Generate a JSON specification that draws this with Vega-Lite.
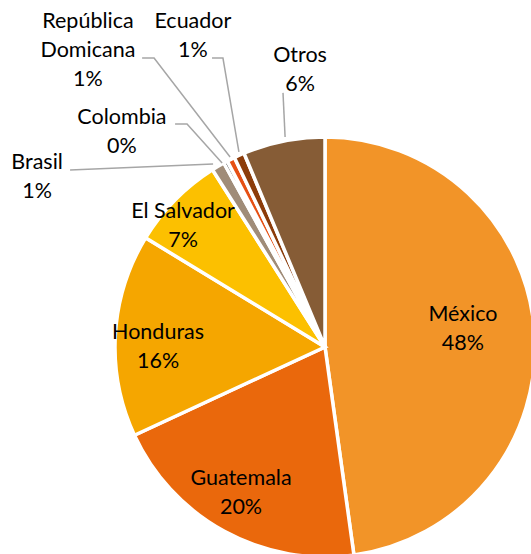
{
  "$schema": "https://vega.github.io/schema/vega-lite/v6.json",
  "autosize": {"type": "none"},
  "width": 412,
  "height": 414,
  "padding": {"left": 119, "top": 140, "right": 0, "bottom": 0},
  "background": "white",
  "config": {"view": {"stroke": null}},
  "datasets": {
    "slices": [
      {"pais": "México", "valor": 47.8, "orden": 1},
      {"pais": "Guatemala", "valor": 20.3, "orden": 2},
      {"pais": "Honduras", "valor": 15.6, "orden": 3},
      {"pais": "El Salvador", "valor": 7.3, "orden": 4},
      {"pais": "Brasil", "valor": 1.0, "orden": 5},
      {"pais": "Colombia", "valor": 0.3, "orden": 6},
      {"pais": "República Domicana", "valor": 0.6, "orden": 7},
      {"pais": "Ecuador", "valor": 0.8, "orden": 8},
      {"pais": "Otros", "valor": 6.3, "orden": 9}
    ],
    "labels": [
      {"texto": "México\n48%", "ux": 0.657, "uy": 0.152},
      {"texto": "Guatemala\n20%", "ux": -0.4, "uy": -0.629},
      {"texto": "Honduras\n16%", "ux": -0.795, "uy": 0.067},
      {"texto": "El Salvador\n7%", "ux": -0.676, "uy": 0.643},
      {"texto": "Brasil\n1%", "ux": -1.371, "uy": 0.876},
      {"texto": "Colombia\n0%", "ux": -0.967, "uy": 1.09},
      {"texto": "República\nDomicana\n1%", "ux": -1.129, "uy": 1.548},
      {"texto": "Ecuador\n1%", "ux": -0.629, "uy": 1.548},
      {"texto": "Otros\n6%", "ux": -0.119, "uy": 1.386}
    ],
    "leaders": [
      {"g": "RD", "s": 1, "ux": -0.871, "uy": 1.376},
      {"g": "RD", "s": 2, "ux": -0.814, "uy": 1.376},
      {"g": "RD", "s": 3, "ux": -0.452, "uy": 0.905},
      {"g": "EC", "s": 1, "ux": -0.538, "uy": 1.376},
      {"g": "EC", "s": 2, "ux": -0.486, "uy": 1.376},
      {"g": "EC", "s": 3, "ux": -0.41, "uy": 0.929},
      {"g": "OT", "s": 1, "ux": -0.2, "uy": 1.21},
      {"g": "OT", "s": 2, "ux": -0.19, "uy": 1.0},
      {"g": "CO", "s": 1, "ux": -0.714, "uy": 1.062},
      {"g": "CO", "s": 2, "ux": -0.657, "uy": 1.062},
      {"g": "CO", "s": 3, "ux": -0.49, "uy": 0.876},
      {"g": "BR", "s": 1, "ux": -1.214, "uy": 0.843},
      {"g": "BR", "s": 2, "ux": -0.533, "uy": 0.871}
    ]
  },
  "layer": [
    {
      "data": {"name": "slices"},
      "mark": {"type": "arc", "outerRadius": 210, "stroke": "white", "strokeWidth": 3.5},
      "encoding": {
        "theta": {"field": "valor", "type": "quantitative", "stack": true},
        "order": {"field": "orden", "type": "quantitative"},
        "color": {
          "field": "pais", "type": "nominal", "legend": null,
          "scale": {
            "domain": ["México", "Guatemala", "Honduras", "El Salvador", "Brasil", "Colombia", "República Domicana", "Ecuador", "Otros"],
            "range": ["#F29428", "#EA680C", "#F5A600", "#FCC000", "#A08C78", "#1A1A1A", "#E65014", "#8C3C0A", "#865C36"]
          }
        }
      }
    },
    {
      "data": {"name": "leaders"},
      "mark": {"type": "line", "color": "#A6A6A6", "strokeWidth": 1.5},
      "encoding": {
        "x": {"field": "ux", "type": "quantitative", "scale": {"domain": [-0.981, 0.981]}, "axis": null},
        "y": {"field": "uy", "type": "quantitative", "scale": {"domain": [-0.9857, 0.9857]}, "axis": null},
        "detail": {"field": "g"},
        "order": {"field": "s", "type": "quantitative"}
      }
    },
    {
      "data": {"name": "labels"},
      "mark": {"type": "text", "font": "Lato", "fontSize": 21.5, "lineBreak": "\n", "lineHeight": 29, "align": "center", "baseline": "middle", "color": "#000000"},
      "encoding": {
        "x": {"field": "ux", "type": "quantitative", "scale": {"domain": [-0.981, 0.981]}, "axis": null},
        "y": {"field": "uy", "type": "quantitative", "scale": {"domain": [-0.9857, 0.9857]}, "axis": null},
        "text": {"field": "texto"}
      }
    }
  ]
}
